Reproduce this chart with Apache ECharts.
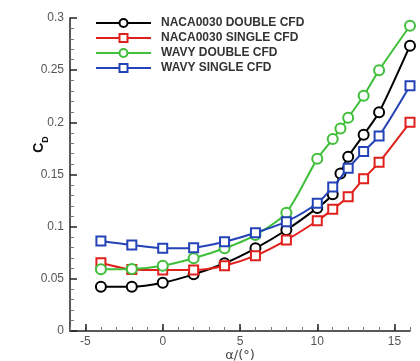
<!DOCTYPE html>
<html>
<head>
<meta charset="utf-8">
<script src="https://cdn.jsdelivr.net/npm/echarts@6/dist/echarts.min.js"></script>
<style>
  html, body { margin: 0; padding: 0; background: #fff; }
  #chart { width: 420px; height: 361px; }
</style>
</head>
<body>
<div id="chart"></div>
<script>
// Drag coefficient vs angle of attack
const seriesNames = ['NACA0030 DOUBLE CFD', 'NACA0030 SINGLE CFD', 'WAVY DOUBLE CFD', 'WAVY SINGLE CFD'];

const nacaDoubleAlpha = [-4, -2, 0, 2, 4, 6, 8, 10, 11, 11.5, 12, 13, 14, 16];
const nacaDoubleCd    = [0.0425, 0.0425, 0.0463, 0.0543, 0.0649, 0.0793, 0.0968, 0.118, 0.131, 0.151, 0.167, 0.188, 0.2096, 0.2735];

const nacaSingleAlpha = [-4, -2, 0, 2, 4, 6, 8, 10, 11, 12, 13, 14, 16];
const nacaSingleCd    = [0.0655, 0.059, 0.0585, 0.0585, 0.0626, 0.0722, 0.0872, 0.1057, 0.1166, 0.1287, 0.146, 0.1617, 0.200];

const wavyDoubleAlpha = [-4, -2, 0, 2, 4, 6, 8, 10, 11, 11.5, 12, 13, 14, 16];
const wavyDoubleCd    = [0.0591, 0.0594, 0.0626, 0.0697, 0.0793, 0.092, 0.1134, 0.165, 0.184, 0.194, 0.2045, 0.2255, 0.250, 0.2926];

const wavySingleAlpha = [-4, -2, 0, 2, 4, 6, 8, 10, 11, 12, 13, 14, 16];
const wavySingleCd    = [0.0863, 0.0824, 0.0793, 0.0799, 0.0856, 0.0942, 0.1048, 0.1224, 0.138, 0.156, 0.172, 0.187, 0.235];

const xMajorTicks = [-5, 0, 5, 10, 15];

const colors = ['#000000', '#e0201c', '#3fbf3a', '#2442b8'];
const symbols = ['emptyCircle', 'emptyRect', 'emptyCircle', 'emptyRect'];

function pairs(xs, ys) { return xs.map((x, i) => [x, ys[i]]); }
const dataSets = [
  pairs(nacaDoubleAlpha, nacaDoubleCd),
  pairs(nacaSingleAlpha, nacaSingleCd),
  pairs(wavyDoubleAlpha, wavyDoubleCd),
  pairs(wavySingleAlpha, wavySingleCd)
];

const axisColor = '#222';
const minorColor = '#777';
const font = 'Liberation Sans, Arial, sans-serif';
const labelStyle = { color: '#555', fontSize: 12, fontFamily: font };

const chart = echarts.init(document.getElementById('chart'), null, { renderer: 'canvas' });
chart.setOption({
  animation: false,
  backgroundColor: '#fff',
  grid: { left: 70, right: 10, top: 18, bottom: 30, containLabel: false, outerBoundsMode: 'none' },
  legend: {
    orient: 'vertical',
    left: 95,
    top: 16,
    padding: 0,
    itemWidth: 55,
    itemHeight: 10,
    itemGap: 1,
    data: seriesNames,
    textStyle: { color: '#333', fontSize: 12, lineHeight: 14, fontWeight: 'bold', fontFamily: font, padding: [0, 0, 0, 5] }
  },
  xAxis: [{
    // unit ticks (minor) and the labels
    type: 'value',
    min: -6, max: 16, interval: 1,
    position: 'bottom',
    axisLine: { show: true, onZero: false, lineStyle: { color: axisColor, width: 1.5 } },
    axisTick: { show: true, inside: true, length: 4, lineStyle: { color: minorColor, width: 1 } },
    axisLabel: { ...labelStyle, margin: 5, customValues: xMajorTicks },
    splitLine: { show: false },
    name: 'α/(°)',
    nameLocation: 'middle',
    nameGap: 18,
    nameMoveOverlap: false,
    nameTextStyle: { color: '#444', fontSize: 13, fontFamily: 'DejaVu Sans, sans-serif' }
  }, {
    // major ticks every 5 degrees
    type: 'value',
    min: -6, max: 16,
    position: 'bottom',
    axisLine: { show: false },
    axisTick: { show: true, inside: true, length: 7, customValues: xMajorTicks, lineStyle: { color: axisColor, width: 1.5 } },
    axisLabel: { show: false },
    splitLine: { show: false }
  }],
  yAxis: {
    type: 'value',
    min: 0, max: 0.3, interval: 0.05,
    axisLine: { show: true, onZero: false, lineStyle: { color: axisColor, width: 1.5 } },
    axisTick: { show: true, inside: true, length: 7, lineStyle: { color: axisColor, width: 1.5 } },
    minorTick: { show: true, splitNumber: 5, length: 4, lineStyle: { color: minorColor, width: 1 } },
    axisLabel: { ...labelStyle, margin: 6 },
    splitLine: { show: false },
    name: '{c|C}{d|D}',
    nameLocation: 'middle',
    nameRotate: 90,
    nameGap: 24,
    nameMoveOverlap: false,
    nameTextStyle: {
      padding: [0, 0, 0, 60],
      rich: {
        c: { fontSize: 14, fontWeight: 'bold', color: '#111', fontFamily: font, lineHeight: 18, verticalAlign: 'bottom' },
        d: { fontSize: 9, fontWeight: 'bold', color: '#111', fontFamily: font, lineHeight: 18, verticalAlign: 'bottom', padding: [0, 0, -4, 0] }
      }
    }
  },
  series: dataSets.map((d, i) => ({
    name: seriesNames[i],
    type: 'line',
    data: d,
    smooth: 0.25,
    symbol: symbols[i],
    symbolSize: symbols[i] === 'emptyCircle' ? 10 : 9,
    lineStyle: { color: colors[i], width: 2 },
    itemStyle: { color: colors[i], borderColor: colors[i], borderWidth: 1.5 },
    z: 2 + i
  }))
});
</script>
</body>
</html>
